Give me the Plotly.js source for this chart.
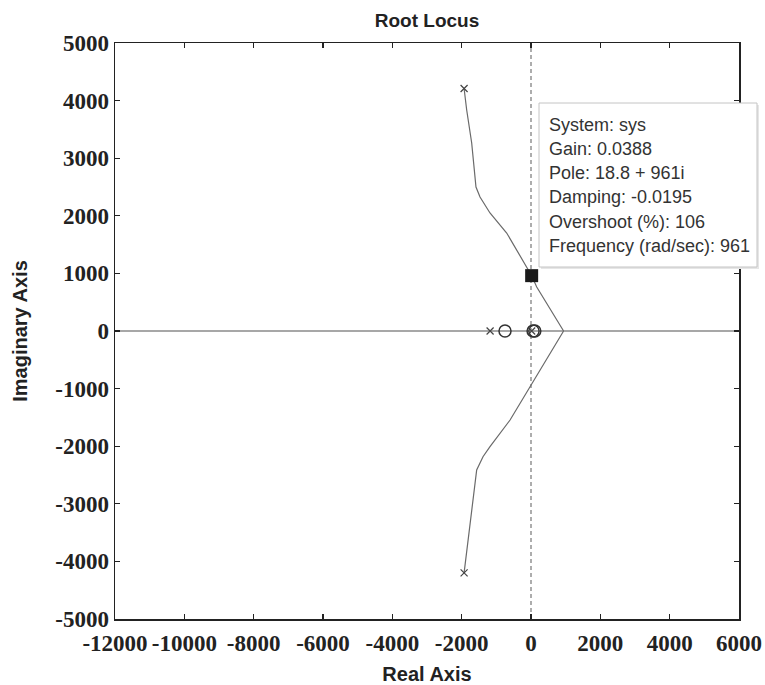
<!DOCTYPE html>
<html>
<head>
<meta charset="utf-8">
<script src="https://cdn.plot.ly/plotly-3.0.1.min.js"></script>
<style>html,body{margin:0;padding:0;background:#fff;}#chart{width:765px;height:685px;}</style>
</head>
<body>
<div id="chart"></div>
<script>
// Root locus branches
const upperRe = [-1930, -1855, -1711, -1587, -1471, -1183, -701, -231, 19, 165, 940];
const upperIm = [4210, 3837, 3264, 2500, 2326, 2049, 1701, 1233, 961, 764, 0];
const lowerRe = [940, 445, -27, -604, -1183, -1385, -1567, -1673, -1760, -1930];
const lowerIm = [0, -503, -967, -1545, -2009, -2182, -2413, -2934, -3398, -4200];
// Real-axis locus
const realAxisRe = [-12000, 6000];
const realAxisIm = [0, 0];
// Open-loop poles and zeros
const poleRe = [-1930, -1930, -1180, 20];
const poleIm = [4210, -4200, 0, 0];
const zeroRe = [-750, 60, 110];
const zeroIm = [0, 0, 0];
// Data cursor
const cursorRe = [18.8];
const cursorIm = [961];
const cursorLines = ["System: sys", "Gain: 0.0388", "Pole: 18.8 + 961i", "Damping: -0.0195", "Overshoot (%): 106", "Frequency (rad/sec): 961"];
// Ticks
const xTickVals = [-12000, -10000, -8000, -6000, -4000, -2000, 0, 2000, 4000, 6000];
const xTickText = ["-12000", "-10000", "-8000", "-6000", "-4000", "-2000", "0", "2000", "4000", "6000"];
const yTickVals = [-5000, -4000, -3000, -2000, -1000, 0, 1000, 2000, 3000, 4000, 5000];
const yTickText = ["-5000", "-4000", "-3000", "-2000", "-1000", "0", "1000", "2000", "3000", "4000", "5000"];

const lineCol = '#6a6a6a';
const traces = [
  {x: realAxisRe, y: realAxisIm, mode: 'lines', line: {color: '#8a8a8a', width: 1.5}, hoverinfo: 'skip'},
  {x: upperRe, y: upperIm, mode: 'lines', line: {color: lineCol, width: 1.2}},
  {x: lowerRe, y: lowerIm, mode: 'lines', line: {color: lineCol, width: 1.2}},
  {x: poleRe, y: poleIm, mode: 'markers', marker: {symbol: 'x-thin-open', size: 7, color: '#444', line: {width: 1.2, color: '#444'}}},
  {x: zeroRe, y: zeroIm, mode: 'markers', marker: {symbol: 'circle-open', size: 12, color: '#333', line: {width: 1.5, color: '#333'}}},
  {x: cursorRe, y: cursorIm, mode: 'markers', marker: {symbol: 'square', size: 13, color: '#1a1a1a'}}
];

const px2x = px => (px - 115) / 624;
const py2y = py => (619 - py) / 576;
const lineY = [125, 149, 173, 197, 222, 246];
const annotations = cursorLines.map((t, i) => ({
  text: t, xref: 'paper', yref: 'paper', x: px2x(547), y: py2y(lineY[i]),
  xanchor: 'left', yanchor: 'middle', showarrow: false,
  font: {family: 'Liberation Sans, Arial, sans-serif', size: 18, color: '#333'}
}));

const axisCommon = {
  showgrid: false, zeroline: false, showline: true, linecolor: '#222', linewidth: 1.5,
  mirror: 'ticks', ticks: 'inside', ticklen: 5, tickwidth: 1.2, tickcolor: '#222',
  tickmode: 'array',
  tickfont: {family: 'Liberation Serif, Times New Roman, serif', size: 23, color: '#222', weight: 'bold'}
};

const layout = {
  width: 765, height: 685,
  margin: {l: 115, r: 26, t: 43, b: 66},
  paper_bgcolor: '#fff', plot_bgcolor: '#fff',
  showlegend: false,
  title: {text: 'Root Locus', font: {family: 'Liberation Sans, Arial, sans-serif', size: 19, color: '#222', weight: 'bold'},
          x: 0.5, xref: 'paper', y: 1 - 20 / 685, yref: 'container', yanchor: 'middle'},
  xaxis: Object.assign({}, axisCommon, {
    range: [-12000, 6000], tickvals: xTickVals, ticktext: xTickText, tickangle: 0, ticklabelstandoff: 3,
    title: {text: 'Real Axis', standoff: 13, font: {family: 'Liberation Sans, Arial, sans-serif', size: 20, color: '#222', weight: 'bold'}}
  }),
  yaxis: Object.assign({}, axisCommon, {
    range: [-5000, 5000], tickvals: yTickVals, ticktext: yTickText,
    title: {text: 'Imaginary Axis', standoff: 22, font: {family: 'Liberation Sans, Arial, sans-serif', size: 20, color: '#222', weight: 'bold'}}
  }),
  shapes: [
    {type: 'line', xref: 'x', yref: 'paper', x0: 0, x1: 0, y0: 0, y1: 1, line: {color: '#777', width: 1.2, dash: '4px,3px'}, layer: 'below'},
    {type: 'rect', xref: 'paper', yref: 'paper', x0: px2x(541), x1: px2x(759), y0: py2y(269), y1: py2y(105), line: {width: 0}, fillcolor: '#e6e6e6', layer: 'above'},
    {type: 'rect', xref: 'paper', yref: 'paper', x0: px2x(539), x1: px2x(757), y0: py2y(267), y1: py2y(103), line: {color: '#c4c4c4', width: 1}, fillcolor: '#fff', layer: 'above'}
  ],
  annotations: annotations
};

Plotly.newPlot('chart', traces, layout, {staticPlot: true});
</script>
</body>
</html>
